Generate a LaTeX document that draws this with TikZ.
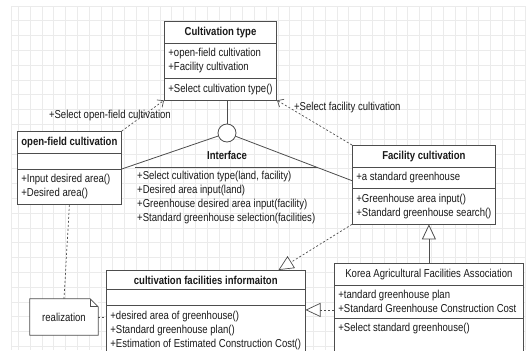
\documentclass[tikz,border=0pt]{standalone}
\usepackage{fontspec}
\setmainfont{Liberation Sans}[FakeStretch=0.83]
\usetikzlibrary{shapes.multipart,arrows.meta,calc}
\definecolor{umlline}{HTML}{4D4D4D}
\definecolor{gridgray}{HTML}{EBEBEB}

\begin{document}
\begin{tikzpicture}[
	x=1pt, y=-1pt,
	every node/.style={
		font=\fontsize{11.5}{14}\selectfont,
		text=black!90,
		inner sep=0pt
	},
	umlbox/.style={
		draw=umlline,
		fill=white,
		line width=0.8pt,
		rectangle split,
		rectangle split parts=3,
		rectangle split part align={center,left,left},
		rectangle split empty part height=4pt,
		align=left,
		anchor=north west,
		inner xsep=4pt,
		inner ysep=5pt
	},
	gridline/.style={draw=gridgray, line width=0.8pt},
	assoc/.style={draw=umlline, line width=0.8pt},
	dotline/.style={draw=umlline, line width=0.7pt, dash pattern=on 2pt off 2pt},
	dep/.style={dotline, -{Straight Barb[length=5pt,width=9pt]}},
	realize/.style={dotline, -{Triangle[open, fill=white, length=15pt, width=14pt]}},
	gen/.style={assoc, -{Triangle[open, fill=white, length=15pt, width=14pt]}}
]
\useasboundingbox (0,0) rectangle (526,350);
\clip (0,0) rectangle (526,350);

% background grid
\foreach \gx in {0,...,43}
	\draw[gridline] ({18.3+11.8*\gx},6) -- ({18.3+11.8*\gx},350);
\foreach \gy in {0,...,23}
	\draw[gridline] (11.7,{6+14.8*\gy}) -- (526,{6+14.8*\gy});
\draw[gridline] (11.7,6) -- (11.7,350);

% classes
\node[umlbox, minimum width=111pt] (ctype) at (164,21)
	{\textbf{Cultivation type}
	\nodepart{two}+open-field cultivation\\+Facility cultivation
	\nodepart{three}+Select cultivation type()};

\node[umlbox, minimum width=103pt] (openf) at (17,131)
	{\textbf{open-field cultivation}
	\nodepart{two}
	\nodepart{three}+Input desired area()\\+Desired area()};

\node[umlbox, minimum width=141pt] (facil) at (352,145)
	{\textbf{Facility cultivation}
	\nodepart{two}+a standard greenhouse
	\nodepart{three}+Greenhouse area input()\\+Standard greenhouse search()};

\node[umlbox, minimum width=189pt] (korea) at (334,263)
	{Korea Agricultural Facilities Association
	\nodepart{two}+tandard greenhouse plan\\+Standard Greenhouse Construction Cost
	\nodepart{three}+Select standard greenhouse()\\\mbox{}};

\node[umlbox, minimum width=197pt, rectangle split empty part height=0pt] (cinfo) at (106,270)
	{\textbf{cultivation facilities informaiton}
	\nodepart{two}
	\nodepart{three}+desired area of greenhouse()\\+Standard greenhouse plan()\\+Estimation of Estimated Construction Cost()};

% interface
\node[draw=umlline, fill=white, line width=0.8pt, circle, minimum size=18pt] (iface) at (227,133) {};
\node[font=\fontsize{11.5}{14}\selectfont\bfseries] (ilabel) at (227,155) {Interface};
\node[anchor=north west, align=left, inner xsep=2pt, inner ysep=3.5pt] (iops) at (135,167)
	{+Select cultivation type(land, facility)\\+Desired area input(land)\\+Greenhouse desired area input(facility)\\+Standard greenhouse selection(facilities)};
\coordinate (iend) at (318,167);
\draw[assoc] (iops.north west) -- (iops.north west -| iend);

\draw[assoc] (iface.north) -- (iface.north |- ctype.south);
\draw[assoc] (iface) -- (openf.two split east);
\draw[assoc] (iface) -- ([yshift=4pt]facil.west);

% note
\node[fill=white, minimum width=68pt, minimum height=36pt] (note) at (64,317) {realization};
\draw[assoc] (note.south west) -- (note.north west) -- ([xshift=-8pt]note.north east)
	-- ([yshift=-8pt]note.north east) -- (note.south east) -- cycle;
\draw[assoc] ([xshift=-8pt]note.north east) -- ([xshift=-8pt,yshift=-8pt]note.north east)
	-- ([yshift=-8pt]note.north east);

% relations
\draw[dep] (openf.north east) -- node[midway, xshift=-33pt] {+Select open-field cultivation} (ctype.south west);
\draw[dep] (facil.north west) -- node[pos=0.83, anchor=west, xshift=4pt] {+Select facility cultivation} (ctype.south east);
\draw[dotline] (openf.south) -- (note.north);
\draw[dotline] (note.east) -- (note.east -| cinfo.west);
\draw[realize] (facil.south west) -- ([xshift=-27pt]cinfo.north east);
\coordinate (kin) at ([yshift=-25pt]korea.one split west);
\draw[realize] (kin) -- (kin -| cinfo.east);
\draw[gen] (korea.north) -- (korea.north |- facil.south);
\end{tikzpicture}
\end{document}
